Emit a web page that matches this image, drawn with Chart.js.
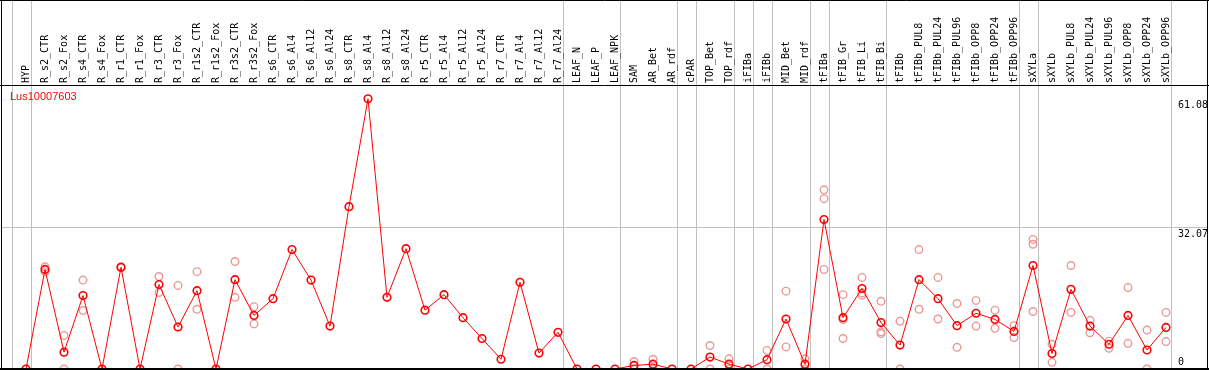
<!DOCTYPE html>
<html>
<head>
<meta charset="utf-8">
<script src="https://cdn.jsdelivr.net/npm/chart.js@4.4.1/dist/chart.umd.min.js"></script>
<style>
  html, body { margin: 0; padding: 0; background: #fff; }
  #wrap { width: 1209px; height: 370px; }
</style>
</head>
<body>
<div id="wrap"><canvas id="expr" width="1209" height="370"></canvas></div>
<script>
const geneName = 'Lus10007603';

const samples = [
  'HYP', 'R_s2_CTR', 'R_s2_Fox', 'R_s4_CTR', 'R_s4_Fox', 'R_r1_CTR', 'R_r1_Fox', 'R_r3_CTR', 'R_r3_Fox',
  'R_r1s2_CTR', 'R_r1s2_Fox', 'R_r3s2_CTR', 'R_r3s2_Fox', 'R_s6_CTR', 'R_s6_Al4', 'R_s6_Al12', 'R_s6_Al24',
  'R_s8_CTR', 'R_s8_Al4', 'R_s8_Al12', 'R_s8_Al24', 'R_r5_CTR', 'R_r5_Al4', 'R_r5_Al12', 'R_r5_Al24',
  'R_r7_CTR', 'R_r7_Al4', 'R_r7_Al12', 'R_r7_Al24', 'LEAF_N', 'LEAF_P', 'LEAF_NPK', 'SAM', 'AR_Bet', 'AR_rdf',
  'cPAR', 'TOP_Bet', 'TOP_rdf', 'iFIBa', 'iFIBb', 'MID_Bet', 'MID_rdf', 'tFIBa', 'tFIB_Gr', 'tFIB_Li', 'tFIB_Bi',
  'tFIBb', 'tFIBb_PUL8', 'tFIBb_PUL24', 'tFIBb_PUL96', 'tFIBb_OPP8', 'tFIBb_OPP24', 'tFIBb_OPP96',
  'sXYLa', 'sXYLb', 'sXYLb_PUL8', 'sXYLb_PUL24', 'sXYLb_PUL96', 'sXYLb_OPP8', 'sXYLb_OPP24', 'sXYLb_OPP96'
];

// mean expression per sample (red line)
const meanValues = [
  0, 22.5, 3.8, 16.6, 0, 23.0, 0, 19.1, 9.5,
  17.7, 0, 20.2, 12.1, 15.9, 27.0, 20.1, 9.7,
  36.7, 61.08, 16.2, 27.2, 13.3, 16.8, 11.6, 6.9,
  2.2, 19.6, 3.6, 8.3, 0, 0, 0, 0.8, 1.1, 0,
  0, 2.7, 1.1, 0, 2.1, 11.3, 1.1, 33.8, 11.6, 18.2, 10.5,
  5.4, 20.2, 15.9, 9.8, 12.6, 11.2, 8.5,
  23.4, 3.5, 18.0, 9.7, 5.6, 12.1, 4.3, 9.4
];

// individual replicates (faded circles)
const rep1 = [
  null, 23.1, 7.6, 20.1, null, 23.1, null, 20.9, 18.9,
  22.0, null, 24.3, 14.1, null, null, null, null,
  null, null, null, null, null, null, null, null,
  null, null, null, null, null, null, null, 1.7, 2.2, null,
  null, 5.3, 2.3, null, 4.2, 17.6, 2.3, 40.5, 16.8, 20.7, 15.3,
  10.8, 27.0, 20.7, 14.8, 15.5, 13.3, 9.8,
  29.3, 5.6, 23.4, 11.0, 6.3, 18.4, 8.8, 12.8
];
const rep2 = [
  null, 22.0, 0, 13.2, null, 22.9, null, 17.3, 0,
  13.5, null, 16.2, 10.2, null, null, null, null,
  null, null, null, null, null, null, null, null,
  null, null, null, null, null, null, null, 0, 0, null,
  null, 0, 0, null, 0, 5.0, 0, 38.5, 11.2, 16.7, 8.4,
  0, 13.5, 11.3, 4.9, 9.7, 9.2, 7.1,
  28.2, 1.5, 12.8, 8.2, 4.7, 5.8, 0, 6.2
];
const rep3 = [
  null, null, null, null, null, null, null, null, null,
  null, null, null, null, null, null, null, null,
  null, null, null, null, null, null, null, null,
  null, null, null, null, null, null, null, null, null, null,
  null, null, null, null, null, null, null, 22.5, 6.9, 17.2, 8.0,
  null, null, null, null, null, null, null,
  13.0, null, null, null, null, null, null, null
];

const yTicks = [0, 32.07, 61.08];
// index of the last sample in each tissue group
const groupEnds = [-1, 0, 28, 31, 34, 35, 37, 38, 39, 41, 42, 45, 52, 53, 60];

const framePlugin = {
  id: 'frame',
  beforeDraw(chart) {
    const ctx = chart.ctx;
    const x = chart.scales.x;
    const y = chart.scales.y;
    const step = x.getPixelForValue(1) - x.getPixelForValue(0);
    ctx.save();
    ctx.fillStyle = '#fff';
    ctx.fillRect(0, 0, chart.width, chart.height);
    ctx.strokeStyle = '#c0c0c0';
    ctx.lineWidth = 1;
    groupEnds.forEach(i => {
      const px = Math.round(x.getPixelForValue(0) + step * i + 5) + 0.5;
      ctx.beginPath();
      ctx.moveTo(px, 0);
      ctx.lineTo(px, chart.chartArea.bottom);
      ctx.stroke();
    });
    const gy = Math.round(y.getPixelForValue(yTicks[1])) + 0.5;
    ctx.beginPath();
    ctx.moveTo(2, gy);
    ctx.lineTo(chart.width - 2, gy);
    ctx.stroke();
    ctx.restore();
  },
  afterDraw(chart) {
    const ctx = chart.ctx;
    const y = chart.scales.y;
    const top = chart.chartArea.top;
    const bottom = chart.chartArea.bottom;
    ctx.save();
    ctx.strokeStyle = '#000';
    ctx.lineWidth = 1;
    ctx.beginPath();
    ctx.moveTo(1.5, 0);
    ctx.lineTo(1.5, bottom);
    ctx.moveTo(chart.width - 1.5, 0);
    ctx.lineTo(chart.width - 1.5, bottom);
    ctx.moveTo(0, 0.5);
    ctx.lineTo(chart.width, 0.5);
    ctx.moveTo(0, top + 0.5);
    ctx.lineTo(chart.width, top + 0.5);
    ctx.stroke();
    ctx.lineWidth = 2;
    ctx.beginPath();
    ctx.moveTo(0, bottom);
    ctx.lineTo(chart.width, bottom);
    ctx.stroke();

    // y tick labels sit inside the frame on the right
    ctx.fillStyle = '#000';
    ctx.font = '10px "DejaVu Sans Mono"';
    ctx.textAlign = 'left';
    yTicks.forEach(v => {
      const py = y.getPixelForValue(v);
      if (v === 0) {
        ctx.textBaseline = 'bottom';
        ctx.fillText(String(v), 1178, py - 2);
      } else {
        ctx.textBaseline = 'top';
        ctx.fillText(v.toFixed(2), 1178, py + 2);
      }
    });

    ctx.fillStyle = '#ff0000';
    ctx.font = '11px "Liberation Sans"';
    ctx.textBaseline = 'middle';
    ctx.fillText(geneName, 10, 97);
    ctx.restore();
  }
};

function repDataset(values) {
  return {
    data: values,
    showLine: false,
    pointRadius: 3.8,
    pointBorderWidth: 1.4,
    pointBorderColor: '#eb9898',
    pointBackgroundColor: 'rgba(0,0,0,0)',
    clip: false
  };
}

new Chart(document.getElementById('expr'), {
  type: 'line',
  data: {
    labels: samples,
    datasets: [
      {
        label: geneName,
        data: meanValues,
        borderColor: '#ff0000',
        borderWidth: 1,
        pointRadius: 3.8,
        pointBorderWidth: 1.6,
        pointBorderColor: '#ff0000',
        pointBackgroundColor: 'rgba(0,0,0,0)',
        tension: 0,
        clip: false
      },
      repDataset(rep1),
      repDataset(rep2),
      repDataset(rep3)
    ]
  },
  options: {
    responsive: false,
    animation: false,
    events: [],
    layout: { autoPadding: false, padding: { left: 26, right: 43, top: 0, bottom: 1 } },
    scales: {
      x: {
        type: 'category',
        position: 'top',
        grid: { display: false, drawTicks: false },
        border: { display: false },
        ticks: {
          autoSkip: false,
          maxRotation: 90,
          minRotation: 90,
          padding: 2,
          labelOffset: 12,
          color: '#000',
          font: { family: 'DejaVu Sans Mono', size: 10 }
        },
        afterFit: scale => { scale.height = 85; }
      },
      y: {
        display: false,
        min: 0,
        max: 64.2
      }
    },
    plugins: {
      legend: { display: false },
      tooltip: { enabled: false }
    }
  },
  plugins: [framePlugin]
});
</script>
</body>
</html>
